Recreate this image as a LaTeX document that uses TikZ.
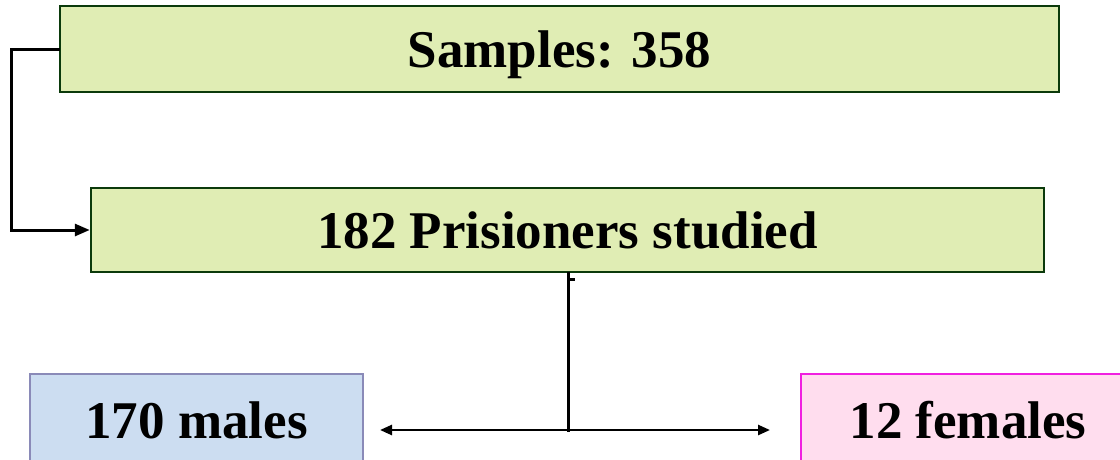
\documentclass[tikz,border=0pt]{standalone}
\usepackage{fontspec}
\setmainfont{Liberation Serif}
\usetikzlibrary{arrows.meta}
\definecolor{gfill}{HTML}{E0EDB4}
\definecolor{gdraw}{HTML}{0B3A0B}
\definecolor{bfill}{HTML}{CCDDF1}
\definecolor{bdraw}{HTML}{8A8AB8}
\definecolor{pfill}{HTML}{FFDDEE}
\definecolor{pdraw}{HTML}{F020E0}
\tikzset{
  box/.style={draw, line width=2.5pt, inner sep=0pt, text depth=0pt, font=\fontsize{53}{60}\selectfont\bfseries},
  greenbox/.style={box, fill=gfill, draw=gdraw},
  bluebox/.style={box, fill=bfill, draw=bdraw, line width=1.8pt},
  pinkbox/.style={box, fill=pfill, draw=pdraw, line width=1.8pt},
  conn/.style={line width=3pt, line cap=rect},
  bigtip/.style={-{Triangle[length=15pt,width=12pt]}},
  smalltip/.style={line width=2.5pt, -{Triangle[length=12pt,width=10pt]}},
}
\begin{document}
\begin{tikzpicture}[x=1pt,y=-1pt]
\useasboundingbox (0,0) rectangle (1120,459);
\node[greenbox, minimum width=999pt, minimum height=86pt] (b1) at (559.5,49) {Samples: 358};
\node[greenbox, minimum width=953pt, minimum height=84pt] (b2) at (567.5,230) {182 Prisioners studied};
\node[bluebox, minimum width=333pt, minimum height=92pt] (m) at (196.5,420) {170 males};
\node[pinkbox, minimum width=334pt, minimum height=92pt] (f) at (968,420) {12 females};
\coordinate (j) at (568,430);
\coordinate (ml) at (380,430);
\coordinate (fr) at (770,430);
\draw[conn, bigtip] (b1.west) -- ++(-47,0) |- (b2.west);
\draw[conn] (b2.south -| j) -- (j);
\draw[line width=2.5pt] ([yshift=-6pt]b2.south -| j) -- ++(7,0);
\draw[smalltip] (j) -- (ml);
\draw[smalltip] (j) -- (fr);
\end{tikzpicture}
\end{document}
